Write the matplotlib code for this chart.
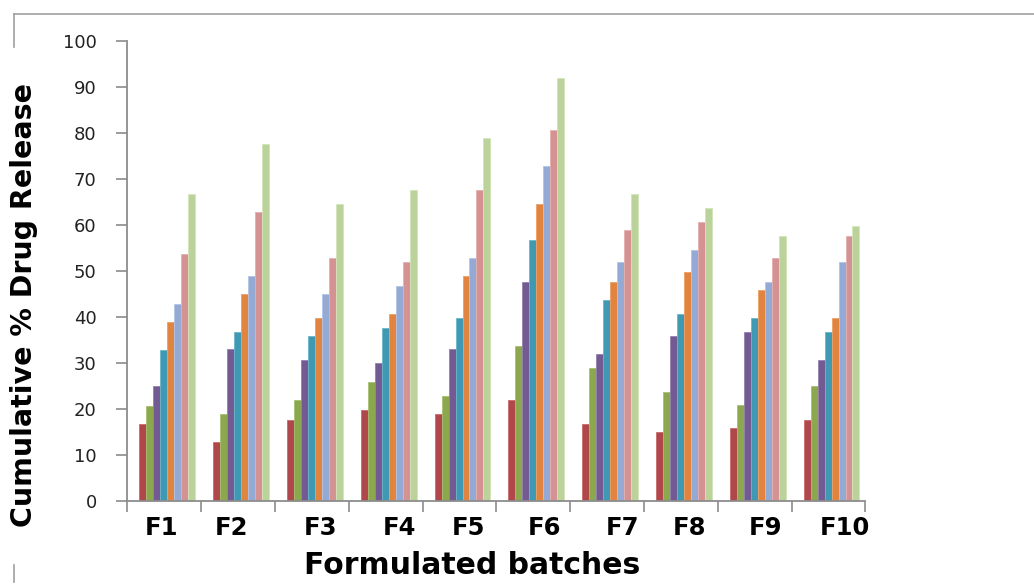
import numpy as np
import matplotlib
matplotlib.use("Agg")
import matplotlib.pyplot as plt
from matplotlib.lines import Line2D
from matplotlib import transforms

batches = ["F1", "F2", "F3", "F4", "F5", "F6", "F7", "F8", "F9", "F10"]

# eight time points per batch (series drawn left to right inside each group)
s1 = [16.8, 12.9, 17.6, 19.8, 19.0, 22.0, 16.8, 15.0, 15.9, 17.6]
s2 = [20.7, 19.0, 22.0, 25.9, 22.9, 33.8, 29.0, 23.8, 20.8, 25.1]
s3 = [25.0, 33.0, 30.7, 29.9, 33.0, 47.7, 32.0, 35.9, 36.8, 30.7]
s4 = [32.9, 36.8, 35.9, 37.6, 39.8, 56.8, 43.7, 40.7, 39.8, 36.8]
s5 = [39.0, 45.0, 39.8, 40.7, 49.0, 64.6, 47.7, 49.8, 45.9, 39.8]
s6 = [42.9, 49.0, 45.0, 46.8, 52.9, 72.9, 52.0, 54.6, 47.7, 52.0]
s7 = [53.7, 62.8, 52.9, 52.0, 67.6, 80.7, 58.9, 60.7, 52.9, 57.6]
s8 = [66.7, 77.6, 64.6, 67.6, 78.9, 92.0, 66.7, 63.7, 57.6, 59.8]

yticks = [0, 10, 20, 30, 40, 50, 60, 70, 80, 90, 100]

series = [s1, s2, s3, s4, s5, s6, s7, s8]
colors = ["#B0474A", "#8CA84E", "#735A93", "#3F99B3", "#E0843F",
          "#94AAD5", "#D49392", "#BCD29B"]
edges = ["#C86A6C", "#A6C070", "#9280AE", "#6BB6CA", "#EEA064",
         "#B2C4E6", "#E4B0AF", "#D3E4B8"]
# per-label horizontal nudges in pixels (labels are not exactly centred in the original)
label_nudge_px = [-6, -10, 6, 11, 6, 8, 12, 6, 8, 13]

W, H = 1034, 585
fig = plt.figure(figsize=(W / 100, H / 100), dpi=100)
ax = fig.add_axes([127.3 / W, 1 - 501 / H, (865.4 - 127.3) / W, (501 - 41) / H])

n = len(series)
bw = 0.0946
x = np.arange(len(batches))
first = x + 0.163
for k, (vals, c, e) in enumerate(zip(series, colors, edges)):
    ax.bar(first + k * bw, vals, width=bw, align="edge", color=c,
           edgecolor=e, linewidth=0.6, zorder=2)

ax.set_xlim(0, len(batches))
ax.set_ylim(0, 100)
ax.set_yticks(yticks)
ax.set_yticklabels([str(v) for v in yticks])

# boundary ticks on the x axis, labels drawn separately
ax.set_xticks(np.arange(len(batches) + 1))
ax.set_xticklabels([])
ax.tick_params(axis="x", direction="out", length=8, width=1.2, color="#8c8c8c")
ax.tick_params(axis="y", direction="out", length=8, width=1.2, color="#8c8c8c",
               labelsize=13, labelcolor="#222222", pad=14)

for side in ["top", "right"]:
    ax.spines[side].set_visible(False)
for side in ["left", "bottom"]:
    ax.spines[side].set_color("#8c8c8c")
    ax.spines[side].set_linewidth(1.3)

centers = x + 0.163 + n * bw / 2
for lab, cx, dx in zip(batches, centers, label_nudge_px):
    tr = transforms.offset_copy(ax.get_xaxis_transform(), fig=fig,
                                x=dx * 0.72, y=0, units="points")
    ax.text(cx, -0.033, lab, transform=tr, ha="center", va="top",
            fontsize=17.5, fontweight="bold", color="black")

fig.text(472 / W, 1 - 566 / H, "Formulated batches", ha="center", va="center",
         fontsize=21.5, fontweight="bold", color="black")
fig.text(24 / W, 1 - 305 / H, "Cumulative % Drug Release", ha="center",
         va="center", rotation=90, fontsize=20.5, fontweight="bold", color="black")

# outer frame fragments of the original figure
gray = "#a0a0a0"
fig.add_artist(Line2D([14 / W, 1.0], [1 - 14 / H, 1 - 14 / H], color=gray, lw=1.2))
fig.add_artist(Line2D([14 / W, 14 / W], [1 - 14 / H, 1 - 47 / H], color=gray, lw=1.2))
fig.add_artist(Line2D([14 / W, 14 / W], [1 - 565 / H, 1 - 582 / H], color=gray, lw=1.2))

fig.savefig("out.png", dpi=100, facecolor="white")
